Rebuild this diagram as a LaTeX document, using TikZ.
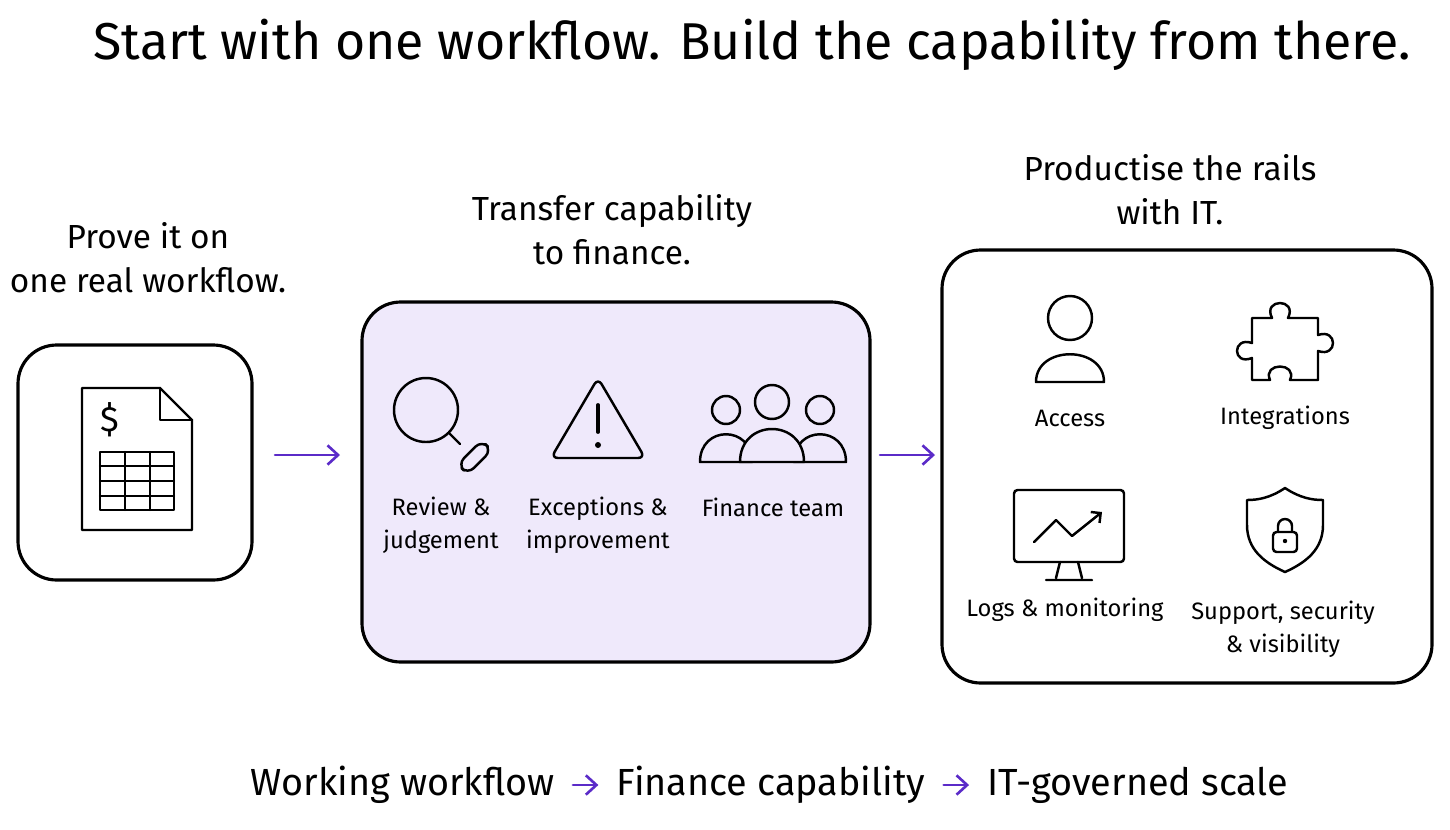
\documentclass[tikz,border=0pt]{standalone}
\usepackage{fontspec}
\setmainfont{Fira Sans}
\usetikzlibrary{positioning, arrows.meta}
\definecolor{arrowpurple}{HTML}{5B2BC8}
\definecolor{lavender}{HTML}{EFE9FB}
\begin{document}
\begin{tikzpicture}[x=0.02cm, y=-0.02cm, line cap=round, line join=round,
    panel/.style={draw, line width=1.8pt, rounded corners=22pt},
    icon/.style={line width=1.4pt},
    flowarrow/.style={-{Straight Barb[length=6pt, width=11pt]}, arrowpurple, line width=1.5pt},
    caption/.style={font=\fontsize{19}{25}\selectfont, align=center},
    iconlabel/.style={font=\fontsize{13.5}{19}\selectfont, align=center}]
        % canvas
        \useasboundingbox (0,0) rectangle (1450,829);

        % title
        \node (title) at (752,45) {\fontsize{29.5}{34}\selectfont Start with one workflow. Build the capability from there.};

        % panels
        \draw[panel, fill=white] (18,345) rectangle (252,580);
        \draw[panel, fill=lavender] (362,302) rectangle (870,662);
        \draw[panel, fill=white] (942,250) rectangle (1432,683);
        \coordinate (p1e) at (275,455); \coordinate (p2w) at (340,455);
        \coordinate (p2e) at (880,455); \coordinate (p3w) at (935,455);
        \draw[flowarrow] (p1e) -- (p2w);
        \draw[flowarrow] (p2e) -- (p3w);

        % captions
        \node[caption] (cap1) at (148,258) {Prove it on\\one real workflow.};
        \node[caption] (cap2) at (612,230) {Transfer capability\\to finance.};
        \node[caption] (cap3) at (1170,190) {Productise the rails\\with IT.};

        % document icon
        \draw[icon] (82,388) -- (160,388) -- (192,420) -- (192,530) -- (82,530) -- cycle;
        \draw[icon] (160,388) -- (160,420) -- (192,420);
        \node (dollar) at (110,420) {\fontsize{20}{24}\selectfont\$};
        \draw[icon] (100,452) rectangle (174,510);
        \foreach \y in {466,481,496} \draw[icon] (100,\y) -- (174,\y);
        \foreach \x in {125,150} \draw[icon] (\x,452) -- (\x,510);

        % magnifier
        \draw[icon] (426,410) circle (32);
        \draw[icon] (449,433) -- (460,444);
        \draw[icon, rounded corners=5pt, rotate around={45:(474,458)}] (458,451) rectangle (492,465);

        % warning
        \draw[icon, rounded corners=4pt] (598,378) -- (645,458) -- (551,458) -- cycle;
        \draw[line width=2.2pt] (598,405) -- (598,432);
        \fill (598,445) circle (3);

        % team
        \foreach \cx in {726, 820} {
          \draw[icon, fill=lavender] (\cx,410) circle (14);
          \draw[icon, fill=lavender] (\cx-26,462) .. controls (\cx-26,425) and (\cx+26,425) .. (\cx+26,462) -- cycle;
        }
        \draw[icon, fill=lavender] (772,402) circle (17);
        \draw[icon, fill=lavender] (740,462) .. controls (740,418) and (804,418) .. (804,462) -- cycle;

        % panel 2 labels
        \node[iconlabel] (l21) at (441,525) {Review \&\\judgement};
        \node[iconlabel] (l22) at (598,525) {Exceptions \&\\improvement};
        \node[iconlabel] (l23) at (773,507) {Finance team};

        % access
        \draw[icon] (1070,318) circle (22);
        \draw[icon] (1036,382) .. controls (1036,345) and (1104,345) .. (1104,382) -- cycle;
        % puzzle
        \draw[icon] (1252,318) -- (1272,318) .. controls (1262,298) and (1298,298) .. (1288,318)
          -- (1318,318) -- (1318,335) .. controls (1338,328) and (1338,358) .. (1318,351)
          -- (1318,380) -- (1290,380) .. controls (1298,362) and (1262,362) .. (1270,380)
          -- (1252,380) -- (1252,358) .. controls (1232,366) and (1232,336) .. (1252,343) -- cycle;
        % monitor
        \draw[icon, rounded corners=2pt] (1014,490) rectangle (1124,562);
        \draw[icon] (1060,562) -- (1056,578) (1078,562) -- (1082,578) (1046,580) -- (1092,580);
        \draw[icon, -{Straight Barb[length=4pt]}] (1034,542) -- (1056,520) -- (1072,536) -- (1102,512);
        % shield
        \draw[icon] (1285,488) .. controls (1270,498) and (1258,500) .. (1247,500)
          -- (1247,525) .. controls (1247,550) and (1265,563) .. (1285,572)
          .. controls (1305,563) and (1323,550) .. (1323,525) -- (1323,500)
          .. controls (1312,500) and (1300,498) .. (1285,488) -- cycle;
        \draw[icon, rounded corners=2pt] (1273,532) rectangle (1297,552);
        \draw[icon] (1278,532) -- (1278,526) arc (180:360:7) -- (1292,532);
        \fill (1285,541) circle (2.2);

        % panel 3 labels
        \node[iconlabel] (l31) at (1070,418) {Access};
        \node[iconlabel] (l32) at (1285,418) {Integrations};
        \node[iconlabel] (l33) at (1065,610) {Logs \& monitoring};
        \node[iconlabel] (l34) at (1283,629) {Support, security\\\& visibility};

        % bottom line
        \node[caption, font=\fontsize{21.5}{26}\selectfont] (b2) at (771,785) {Finance capability};
        \node[caption, font=\fontsize{21.5}{26}\selectfont, left=50 of b2] (b1) {Working workflow};
        \node[caption, font=\fontsize{21.5}{26}\selectfont, right=50 of b2] (b3) {IT-governed scale};
        \draw[flowarrow] ([xshift=7]b1.east) -- ([xshift=-7]b2.west);
        \draw[flowarrow] ([xshift=7]b2.east) -- ([xshift=-7]b3.west);
\end{tikzpicture}
\end{document}
